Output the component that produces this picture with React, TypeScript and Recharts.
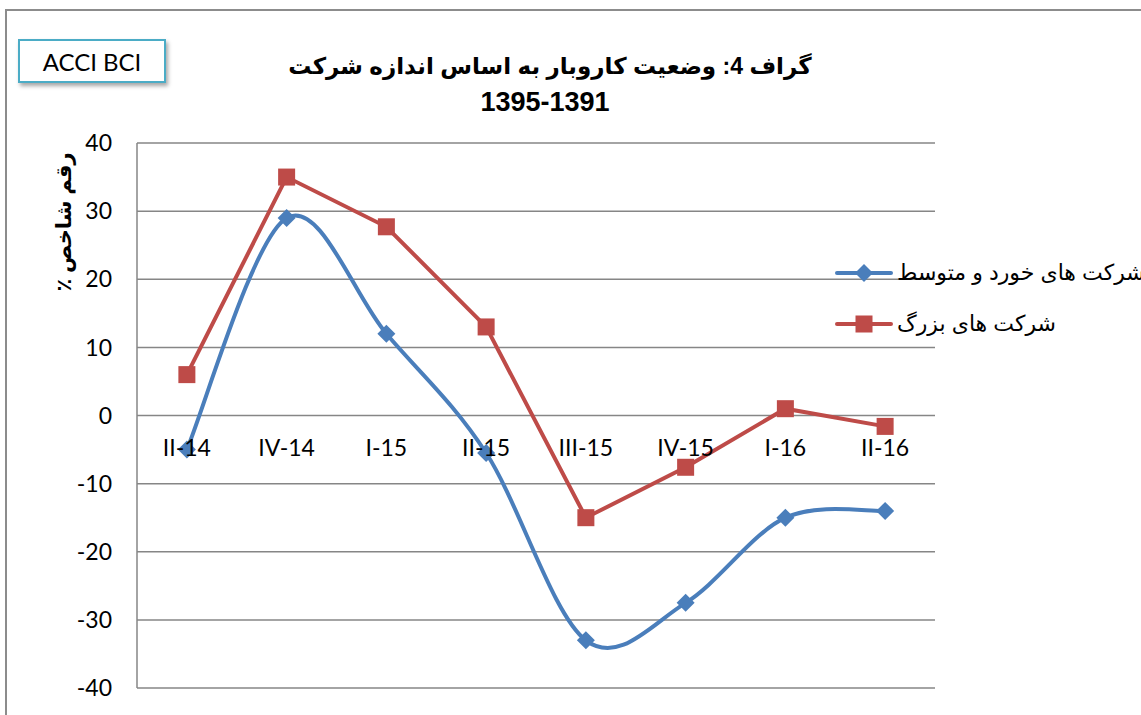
import React from 'react';
import { LineChart, Line, XAxis, YAxis, CartesianGrid } from 'recharts';

const quarters = ['II-14', 'IV-14', 'I-15', 'II-15', 'III-15', 'IV-15', 'I-16', 'II-16'];
const smallMedium = [-5, 29, 12, -5.5, -33, -27.5, -15, -14];
const large = [6, 35, 27.7, 13, -15, -7.6, 1, -1.6];
const yTicks = [-40, -30, -20, -10, 0, 10, 20, 30, 40];

const seriesNames = ['شرکت های خورد و متوسط', 'شرکت های بزرگ'];
const titleLines = ['گراف 4: وضعیت کاروبار به اساس اندازه شرکت', '1395-1391'];
const yLabel = 'رقم شاخص ٪';

const data = quarters.map((q, i) => ({ q, small: smallMedium[i], large: large[i] }));

const W = 1141;
const H = 715;
const PLOT_TOP = 143;
const PLOT_BOTTOM = 688;
const Y_MIN = -40;
const Y_MAX = 40;
const BLUE = '#4a7ebb';
const RED = '#be4b48';
const GRID = '#868686';
const FONT = 'Lato, "Open Sans", sans-serif';
const AR_FONT = '"Liberation Sans", "DejaVu Sans", sans-serif';

// Excel-like smoothing (uniform Catmull-Rom as cubic bezier)
const excelSmooth = (context: any) => {
  let pts: number[][] = [];
  return {
    areaStart() {},
    areaEnd() {},
    lineStart() {
      pts = [];
    },
    point(x: number, y: number) {
      pts.push([+x, +y]);
    },
    lineEnd() {
      if (!pts.length) return;
      context.moveTo(pts[0][0], pts[0][1]);
      for (let i = 0; i < pts.length - 1; i++) {
        const p0 = pts[i - 1] || pts[i];
        const p1 = pts[i];
        const p2 = pts[i + 1];
        const p3 = pts[i + 2] || pts[i + 1];
        context.bezierCurveTo(
          p1[0] + (p2[0] - p0[0]) / 6,
          p1[1] + (p2[1] - p0[1]) / 6,
          p2[0] - (p3[0] - p1[0]) / 6,
          p2[1] - (p3[1] - p1[1]) / 6,
          p2[0],
          p2[1]
        );
      }
    },
  };
};

const Diamond = (props: any) => {
  const { cx, cy } = props;
  if (cx == null || cy == null) return null;
  const r = 9;
  return (
    <polygon
      points={`${cx},${cy - r} ${cx + r},${cy} ${cx},${cy + r} ${cx - r},${cy}`}
      fill={BLUE}
    />
  );
};

const Square = (props: any) => {
  const { cx, cy } = props;
  if (cx == null || cy == null) return null;
  const s = 17;
  return <rect x={cx - s / 2} y={cy - s / 2} width={s} height={s} fill={RED} />;
};

const zeroY = PLOT_TOP + ((Y_MAX - 0) / (Y_MAX - Y_MIN)) * (PLOT_BOTTOM - PLOT_TOP);

const renderQuarterTick = (props: any) => {
  const { x, payload } = props;
  return (
    <text
      x={x}
      y={zeroY + 35}
      textAnchor="middle"
      dominantBaseline="middle"
      fontSize={23}
      fontFamily={FONT}
      fill="#000"
    >
      {payload.value}
    </text>
  );
};

const LegendRow = ({ color, marker, label }: { color: string; marker: 'd' | 's'; label: string }) => (
  <div style={{ display: 'flex', alignItems: 'center', height: 24, marginBottom: 27 }}>
    <svg width={58} height={24}>
      <line x1={2} y1={12} x2={56} y2={12} stroke={color} strokeWidth={4} strokeLinecap="round" />
      {marker === 'd' ? (
        <polygon points="29,3 38,12 29,21 20,12" fill={color} />
      ) : (
        <rect x={20.5} y={3.5} width={17} height={17} fill={color} />
      )}
    </svg>
    <span
      style={{
        direction: 'rtl',
        whiteSpace: 'nowrap',
        fontFamily: AR_FONT,
        fontSize: 22,
        marginLeft: 4,
        color: '#000',
      }}
    >
      {label}
    </span>
  </div>
);

export default function App() {
  return (
    <div
      style={{
        position: 'absolute',
        left: 0,
        top: 0,
        width: W,
        height: H,
        overflow: 'hidden',
        background: '#fff',
      }}
    >
      <div
        style={{
          position: 'absolute',
          left: 5,
          top: 9,
          width: 1300,
          height: 900,
          border: '2px solid #8c8c8c',
        }}
      />
      <div
        style={{
          position: 'absolute',
          left: 18,
          top: 39,
          width: 144,
          height: 40,
          border: '2px solid #4bacc6',
          background: '#fff',
          boxShadow: '2px 3px 4px rgba(0,0,0,0.35)',
          fontFamily: FONT,
          fontSize: 24,
          lineHeight: '42px',
          textAlign: 'center',
        }}
      >
        ACCI BCI
      </div>
      <div
        style={{
          position: 'absolute',
          left: 200,
          top: 48,
          width: 700,
          textAlign: 'center',
          fontFamily: AR_FONT,
          fontWeight: 'bold',
          whiteSpace: 'nowrap',
          direction: 'rtl',
        }}
      >
        <div style={{ fontSize: 23, lineHeight: '36px' }}>{titleLines[0]}</div>
        <div style={{ fontSize: 27, lineHeight: '36px', marginRight: 10 }}>{titleLines[1]}</div>
      </div>
      <div
        style={{
          position: 'absolute',
          left: 64,
          top: 222,
          transform: 'translate(-50%, -50%) rotate(-90deg)',
          whiteSpace: 'nowrap',
          fontFamily: AR_FONT,
          fontWeight: 'bold',
          fontSize: 21,
          direction: 'rtl',
        }}
      >
        {yLabel}
      </div>
      <div style={{ position: 'absolute', left: 0, top: 0 }}>
        <LineChart
          width={W}
          height={H}
          data={data}
          margin={{ top: PLOT_TOP, right: W - 935, bottom: H - PLOT_BOTTOM - 1, left: 97 }}
        >
          <CartesianGrid vertical={false} stroke={GRID} strokeWidth={1.5} />
          <XAxis
            dataKey="q"
            scale="band"
            height={1}
            axisLine={false}
            tickLine={false}
            tick={renderQuarterTick}
            interval={0}
          />
          <YAxis
            width={40}
            domain={[Y_MIN, Y_MAX]}
            ticks={yTicks}
            interval={0}
            axisLine={{ stroke: GRID, strokeWidth: 1.5 }}
            tickLine={false}
            tickSize={0}
            tickMargin={25}
            tick={{ fontSize: 23, fontFamily: FONT, fill: '#000' }}
          />
          <Line
            dataKey="small"
            type={excelSmooth as any}
            stroke={BLUE}
            strokeWidth={4}
            dot={<Diamond />}
            activeDot={false}
            isAnimationActive={false}
          />
          <Line
            dataKey="large"
            type="linear"
            stroke={RED}
            strokeWidth={4}
            dot={<Square />}
            activeDot={false}
            isAnimationActive={false}
          />
        </LineChart>
      </div>
      <div style={{ position: 'absolute', left: 835, top: 261 }}>
        <LegendRow color={BLUE} marker="d" label={seriesNames[0]} />
        <LegendRow color={RED} marker="s" label={seriesNames[1]} />
      </div>
    </div>
  );
}
